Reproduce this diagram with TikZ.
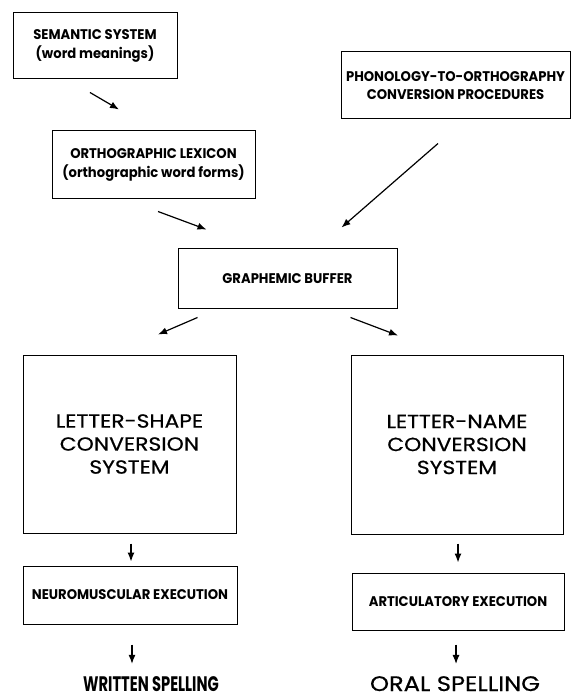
\documentclass[tikz,border=0pt]{standalone}
\usepackage{fontspec}
\usepackage{tikz}
\usetikzlibrary{calc,arrows.meta}
\newfontfamily\condfont[FakeStretch=0.94]{Poppins}
\newfontfamily\narrowfont[FakeStretch=0.7]{Poppins}
\newfontfamily\widefont[FakeStretch=1.15,FakeBold=0.6]{Poppins}
\tikzset{
	box/.style={draw,line width=1pt,align=center,inner sep=0pt},
	smalltext/.style={font=\condfont\bfseries\fontsize{14}{18.5}\selectfont},
	bigtext/.style={font=\widefont\fontsize{19}{23}\selectfont},
	flow/.style={line width=1.2pt,-{Latex[length=9pt,width=7pt]}}
}

\begin{document}
\begin{tikzpicture}[x=1pt,y=-1pt]
							\useasboundingbox (0,0) rectangle (572,700);
							% boxes
							\node[box,smalltext,minimum width=164pt,minimum height=66pt] (sem) at (95,46) {SEMANTIC SYSTEM\\(word meanings)};
							\node[box,smalltext,minimum width=203pt,minimum height=68pt] (lex) at (153.5,165) {ORTHOGRAPHIC LEXICON\\(orthographic word forms)};
							\node[box,smalltext,minimum width=229pt,minimum height=67pt] (phon) at (455.5,85.5) {PHONOLOGY-TO-ORTHOGRAPHY\\CONVERSION PROCEDURES};
							\node[box,smalltext,minimum width=219pt,minimum height=59pt] (buf) at (287.5,278.5) {GRAPHEMIC BUFFER};
							\node[box,bigtext,minimum width=213pt,minimum height=178pt] (shape) at (129.5,444) {LETTER-SHAPE\\CONVERSION\\SYSTEM};
							\node[box,bigtext,minimum width=212pt,minimum height=179pt] (name) at (457,444.5) {LETTER-NAME\\CONVERSION\\SYSTEM};
							\node[box,smalltext,minimum width=214pt,minimum height=58pt] (neuro) at (130,595) {NEUROMUSCULAR EXECUTION};
							\node[box,smalltext,minimum width=212pt,minimum height=57pt] (artic) at (458,601.5) {ARTICULATORY EXECUTION};
							\node[font=\narrowfont\bfseries\fontsize{21}{24}\selectfont,inner sep=0pt,anchor=base] (written) at (151,691) {WRITTEN SPELLING};
							\node[font=\widefont\fontsize{21}{24}\selectfont,inner sep=0pt,anchor=base] (oral) at (455,691) {ORAL SPELLING};
							
							% arrow ends
							\coordinate (a1s) at ($(sem.south)+(-5,13)$);
							\coordinate (a1e) at ($(lex.north)+(-34.5,-21)$);
							\coordinate (a2s) at ($(lex.south)+(4.5,12)$);
							\coordinate (a2e) at ($(buf.north west)+(29,-19)$);
							\coordinate (a3s) at ($(phon.south)+(-17.5,24)$);
							\coordinate (a3e) at ($(buf.north east)+(-56,-21)$);
							\coordinate (a4s) at ($(buf.south west)+(20,9)$);
							\coordinate (a4e) at ($(shape.north)+(28.5,-20)$);
							\coordinate (a5s) at ($(buf.south east)+(-47,9)$);
							\coordinate (a5e) at ($(name.north)+(-59,-19)$);
							
							\draw[flow] (a1s) -- (a1e);
							\draw[flow] (a2s) -- (a2e);
							\draw[flow] (a3s) -- (a3e);
							\draw[flow] (a4s) -- (a4e);
							\draw[flow] (a5s) -- (a5e);
							\draw[flow,shorten <=10pt,shorten >=4pt] ([xshift=1.5pt]shape.south) -- ([xshift=1.5pt]shape.south |- neuro.north);
							\draw[flow,shorten <=9pt,shorten >=10pt] ([xshift=1pt]name.south) -- ([xshift=1pt]name.south |- artic.north);
							\draw[flow,shorten <=20pt,shorten >=12pt] ([xshift=2pt]neuro.south) -- ([xshift=2pt]neuro.south |- written.north);
							\draw[flow,shorten <=14pt,shorten >=12pt] ([xshift=-2pt]artic.south) -- ([xshift=-2pt]artic.south |- oral.north);
					\end{tikzpicture}
\end{document}
